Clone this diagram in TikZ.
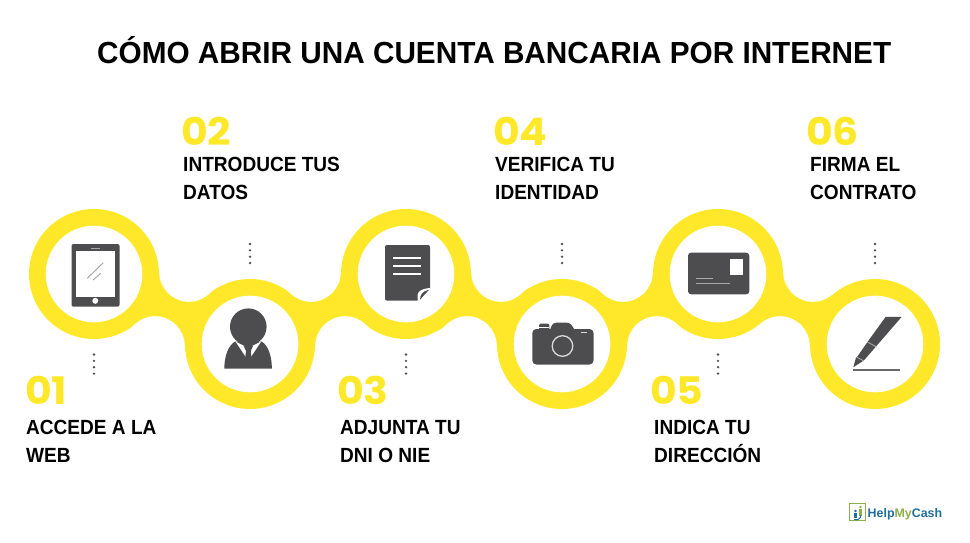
\documentclass[tikz,border=0pt]{standalone}
\usepackage{fontspec}
\setmainfont[FakeStretch=.93]{Liberation Sans}
\newfontfamily\numfont[FakeStretch=1.08]{Poppins}
\newfontfamily\logofont{Liberation Sans}
\newfontfamily\titlefont[FakeStretch=.975]{Liberation Sans}
\definecolor{amarillo}{HTML}{FFE82A}
\definecolor{oscuro}{HTML}{4D4D4F}
\definecolor{gris}{HTML}{A8A8A8}
\definecolor{azulhmc}{HTML}{1F6E9C}
\definecolor{verdehmc}{HTML}{8DB04A}
\tikzset{
  anillo/.style={circle,fill=amarillo,inner sep=0,minimum size=130pt},
  hueco/.style={circle,fill=white,inner sep=0,minimum size=96.6pt},
  curva/.style={circle,fill=white,inner sep=0,minimum size=59.6pt},
  numero/.style={anchor=base west,inner sep=0,text=amarillo,font=\numfont\bfseries\fontsize{38}{38}\selectfont},
  paso/.style={anchor=north west,inner sep=0,align=left,font=\bfseries\fontsize{20.5}{28}\selectfont},
  puntos/.style={draw=oscuro,line width=2.6pt,line cap=round,dash pattern=on 0pt off 6.35pt},
}
\begin{document}
\begin{tikzpicture}[x=1pt,y=-1pt]
\useasboundingbox (0,0) rectangle (970,543);
\node[anillo] (c1) at (94,274) {};
\node[anillo] (c2) at (250,344) {};
\node[anillo] (c3) at (406,274) {};
\node[anillo] (c4) at (562,344) {};
\node[anillo] (c5) at (718,274) {};
\node[anillo] (c6) at (875,344) {};
\coordinate (a1) at (189,272);
\coordinate (b1) at (155,346);
\coordinate (a2) at (311,272);
\coordinate (b2) at (345,346);
\coordinate (a3) at (501,272);
\coordinate (b3) at (467,346);
\coordinate (a4) at (623,272);
\coordinate (b4) at (657,346);
\coordinate (a5) at (813,272);
\coordinate (b5) at (780,346);
\fill[amarillo] (c1.center)--(a1)--(c2.center)--(b1)--cycle;
\fill[amarillo] (c2.center)--(a2)--(c3.center)--(b2)--cycle;
\fill[amarillo] (c3.center)--(a3)--(c4.center)--(b3)--cycle;
\fill[amarillo] (c4.center)--(a4)--(c5.center)--(b4)--cycle;
\fill[amarillo] (c5.center)--(a5)--(c6.center)--(b5)--cycle;
\node[curva] at (a1) {};
\node[curva] at (b1) {};
\node[curva] at (a2) {};
\node[curva] at (b2) {};
\node[curva] at (a3) {};
\node[curva] at (b3) {};
\node[curva] at (a4) {};
\node[curva] at (b4) {};
\node[curva] at (a5) {};
\node[curva] at (b5) {};
\node[hueco] (h1) at (c1) {};
\node[hueco] (h2) at (c2) {};
\node[hueco] (h3) at (c3) {};
\node[hueco] (h4) at (c4) {};
\node[hueco] (h5) at (c5) {};
\node[hueco] (h6) at (c6) {};
% tableta
\fill[oscuro,rounded corners=2pt] (71.5,244) rectangle (119.5,306.7);
\fill[white] (76,251) rectangle (115,296.7);
\fill[white] (95.3,300.8) circle (3);
\draw[gris,line width=.6pt] (91,248) -- (100,248);
\draw[gris,line width=1pt] (87.3,278.3) -- (103.3,262.7);
\draw[gris,line width=1pt] (93,280) -- (100.7,273.3);
% persona
\fill[oscuro] (224.3,368.5) .. controls (224.5,356) and (228,346) .. (235,341.5) -- (261.7,341.5) .. controls (268.5,346) and (271.7,356) .. (271.9,368.5) -- cycle;
\fill[white] (235.5,341.5) -- (243.5,345.5) -- (247,347) -- (246.8,358.5) -- cycle;
\fill[white] (261.2,341.5) -- (253,345.5) -- (249.7,347) -- (249.9,358.5) -- cycle;
\fill[oscuro] (243.5,345.5) -- (253.2,345.5) -- (250.8,351) -- (251.5,358) -- (248.3,361) -- (245.2,358) -- (246,351) -- cycle;
\fill[oscuro] (248.3,326.7) circle (18.3);
% documento
\fill[oscuro,rounded corners=2pt] (385,245) rectangle (430,300.7);
\fill[white] (417.5,301) -- (417.5,295) .. controls (418,291) and (422,288.5) .. (430.5,288) -- (430.5,301) -- cycle;
\fill[oscuro] (420,299.7) .. controls (420,295) and (422.5,291) .. (429,289.8) -- cycle;
\draw[white,line width=1.5pt] (393.3,258) -- (421,258);
\draw[white,line width=1.5pt] (393.3,266) -- (421,266);
\draw[white,line width=1.5pt] (393.3,274) -- (421,274);
% camara
\fill[oscuro,rounded corners=4pt] (532.3,329) rectangle (593.5,364.5);
\fill[oscuro,rounded corners=3pt] (549,332) -- (553,322.7) -- (570,322.7) -- (576,332) -- cycle;
\fill[oscuro,rounded corners=1.5pt] (539,323.5) rectangle (549.3,331);
\draw[white,line width=.6pt] (539,326.8) -- (549.3,326.8);
\draw[white!85!black,line width=1.4pt] (580.5,332.5) -- (586.8,332.5);
\draw[white!85!black,line width=1.3pt] (562.5,346) circle (10.3);
% tarjeta
\fill[oscuro,rounded corners=3pt] (688,252.7) rectangle (749.3,294.3);
\fill[white] (730,259.3) rectangle (742.7,275.3);
\draw[gris,line width=1pt] (696,278.7) -- (713.3,278.7);
\draw[gris,line width=1pt] (696,283.3) -- (730.3,283.3);
% pluma
\fill[oscuro] (885.7,316.8) -- (901.7,316.8) -- (864.3,360) -- (863,361) -- (853.3,367.3) -- (856,357.7) -- (857.3,356.7) -- (867.7,341.7) -- cycle;
\draw[gris,line width=.9pt] (867.5,342) -- (876.5,347);
\draw[gris,line width=.9pt] (856.5,357) -- (863.5,360.8);
\draw[oscuro!85!white,line width=2.4pt] (852.5,370) -- (900,370);
% puntos
\draw[puntos] (94,354.5) -- (94,374);
\draw[puntos] (250,244) -- (250,263.5);
\draw[puntos] (406,354.5) -- (406,374);
\draw[puntos] (562,244) -- (562,263.5);
\draw[puntos] (718,354.5) -- (718,374);
\draw[puntos] (875,244) -- (875,263.5);
% textos
\node[anchor=base west,inner sep=0,font=\titlefont\bfseries\fontsize{30.5}{32}\selectfont] (titulo) at (97,63.5) {CÓMO ABRIR UNA CUENTA BANCARIA POR INTERNET};
\node[numero] (n1) at (25,404) {01};
\node[numero] (n2) at (181,146) {02};
\node[numero] (n3) at (337,404) {03};
\node[numero] (n4) at (493,146) {04};
\node[numero] (n5) at (650,404) {05};
\node[numero] (n6) at (806,146) {06};
\node[paso] (t1) at (26,420) {ACCEDE A LA\\WEB};
\node[paso] (t2) at (183,157) {INTRODUCE TUS\\DATOS};
\node[paso] (t3) at (340,420) {ADJUNTA TU\\DNI O NIE};
\node[paso] (t4) at (495,157) {VERIFICA TU\\IDENTIDAD};
\node[paso] (t5) at (654,420) {INDICA TU\\DIRECCIÓN};
\node[paso] (t6) at (810,157) {FIRMA EL\\CONTRATO};
% logo
\draw[verdehmc,line width=1pt] (849.5,503.5) rectangle (865.3,520);
\fill[verdehmc] (860.5,507) circle (1.4);
\fill[verdehmc] (859.4,509) rectangle (861.6,516);
\fill[azulhmc] (855.5,511) circle (1.4);
\fill[azulhmc] (854.4,513) rectangle (856.6,518);
\draw[azulhmc,line width=1pt] (861,515) .. controls (861,519) and (857,520.5) .. (854,519.5);
\node[anchor=base west,inner sep=0,font=\logofont\bfseries\fontsize{12.4}{14}\selectfont] (logo) at (867.5,517) {\textcolor{azulhmc}{Help}\textcolor{verdehmc}{My}\textcolor{azulhmc}{Cash}};
\end{tikzpicture}
\end{document}
